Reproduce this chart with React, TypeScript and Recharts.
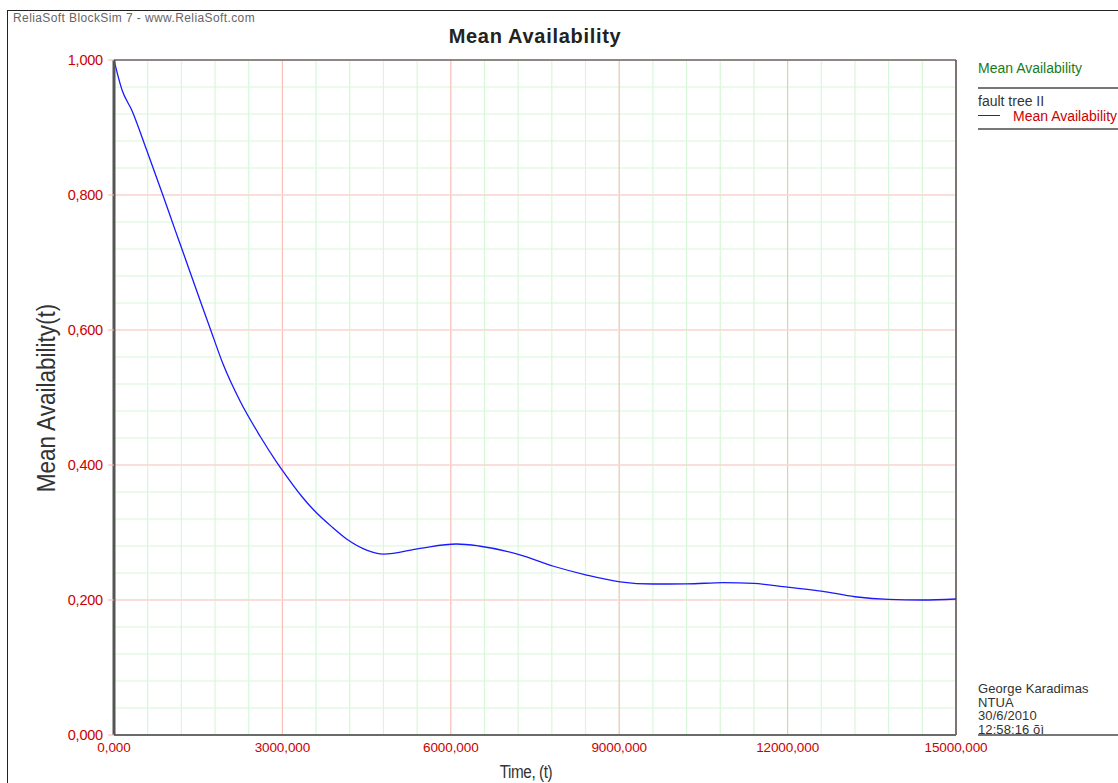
import React from 'react'
import {
  LineChart, Line, XAxis, YAxis, CartesianGrid, ReferenceLine
} from 'recharts'

// time (t) and mean availability
const times = [
  0, 150, 315, 580, 870, 1090, 1210, 1550, 1710, 1950, 2250, 2600, 2900, 3000,
  3350, 3550, 3900, 4150, 4500, 4800, 5450, 6100, 6500, 7230, 7830, 8420,
  9015, 9600, 10200, 10850, 11400, 12000, 12600, 13200, 13800, 14400, 15000
]
const availability = [
  1.0, 0.954, 0.926, 0.867, 0.8, 0.748, 0.72, 0.64, 0.603, 0.548, 0.494, 0.443, 0.404, 0.392,
  0.353, 0.334, 0.307, 0.29, 0.274, 0.268, 0.2765, 0.283, 0.28, 0.267, 0.25, 0.237,
  0.227, 0.2237, 0.2238, 0.2258, 0.2245, 0.219, 0.2133, 0.2048, 0.2008, 0.2, 0.2015
]

const xTicks = [0, 3000, 6000, 9000, 12000, 15000]
const yTicks = [0, 0.2, 0.4, 0.6, 0.8, 1.0]
const xMinor = Array.from({ length: 26 }, (_, i) => i * 600)
const yMinor = Array.from({ length: 26 }, (_, i) => +(i * 0.04).toFixed(2))

const data = times.map((t, i) => ({ t, a: availability[i] }))

const fmt = (v: number) => v.toFixed(3).replace('.', ',')

const font = '"Liberation Sans", Arial, sans-serif'
const red = '#cc0000'

const txt = (extra: React.CSSProperties): React.CSSProperties => ({
  position: 'absolute', fontFamily: font, whiteSpace: 'nowrap', lineHeight: 1, ...extra
})

export default function App() {
  return (
    <div style={{ position: 'absolute', left: 0, top: 0, width: 1118, height: 783, overflow: 'hidden', background: '#fff' }}>
      <div style={{ position: 'absolute', left: 7, top: 10, width: 1200, height: 900, borderTop: '1.5px solid #222', borderLeft: '1.5px solid #222' }} />
      <div style={txt({ left: 13, top: 12, fontSize: 12, color: '#666', letterSpacing: 0.4 })}>ReliaSoft BlockSim 7 - www.ReliaSoft.com</div>
      <div style={txt({ left: 0, width: 1070, top: 26, textAlign: 'center', fontSize: 20, fontWeight: 'bold', color: '#222', letterSpacing: 0.7 })}>Mean Availability</div>

      <div style={{ position: 'absolute', left: 0, top: 0 }}>
        <LineChart width={1118} height={783} data={data} margin={{ top: 60, right: 162, left: 54, bottom: 18 }}>
          <CartesianGrid horizontalValues={yMinor} verticalValues={xMinor} stroke="#d8f7d8" strokeWidth={1.2} />
          <CartesianGrid horizontal={false} verticalValues={xTicks} stroke="#ffb8b8" strokeWidth={1} />
          <CartesianGrid vertical={false} horizontalValues={yTicks} stroke="#ffd4d4" strokeWidth={1.6} />
          <XAxis
            dataKey="t" type="number" domain={[0, 15000]} ticks={xTicks} tickFormatter={fmt}
            interval={0} height={30} tickLine={false} tickMargin={1}
            axisLine={{ stroke: '#6a6a6a', strokeWidth: 2 }}
            tick={{ fill: red, fontSize: 13.5, fontFamily: font, letterSpacing: -0.1 }}
          />
          <YAxis
            type="number" domain={[0, 1]} ticks={yTicks} tickFormatter={fmt}
            interval={0} width={60} tickSize={6} tickMargin={5}
            tickLine={{ stroke: '#ffb0b0' }}
            axisLine={{ stroke: '#555', strokeWidth: 3 }}
            tick={{ fill: red, fontSize: 14.5, fontFamily: font, letterSpacing: -0.2 }}
          />
          <ReferenceLine y={1} stroke="#6a6a6a" strokeWidth={1.5} />
          <ReferenceLine x={15000} stroke="#555" strokeWidth={1.5} />
          <Line
            type="monotone" dataKey="a" stroke="#1a1aff" strokeWidth={1.3}
            dot={false} isAnimationActive={false}
          />
        </LineChart>
      </div>

      <div style={txt({ left: 46, top: 398, fontSize: 25, color: '#333', transform: 'translate(-50%, -50%) rotate(-90deg) scaleX(0.9)', transformOrigin: 'center' })}>Mean Availability(t)</div>
      <div style={txt({ left: 526, top: 772, fontSize: 18, color: '#333', transform: 'translate(-50%, -50%) scaleX(0.85)', letterSpacing: -0.5 })}>Time, (t)</div>

      <div style={txt({ left: 978, top: 61, fontSize: 14, color: '#1a7a1a' })}>Mean Availability</div>
      <div style={{ position: 'absolute', left: 978, top: 87, width: 140, height: 1.5, background: '#777' }} />
      <div style={txt({ left: 978, top: 94, fontSize: 14, color: '#333' })}>fault tree II</div>
      <div style={{ position: 'absolute', left: 978, top: 115, width: 22, height: 1, background: '#1a1aff' }} />
      <div style={txt({ left: 1013, top: 109, fontSize: 14, color: red })}>Mean Availability</div>
      <div style={{ position: 'absolute', left: 978, top: 128, width: 140, height: 1.5, background: '#777' }} />

      <div style={txt({ left: 978, top: 682, fontSize: 13, color: '#333', letterSpacing: 0.1, lineHeight: '13.5px' })}>
        George Karadimas<br />NTUA<br />30/6/2010<br />12:58:16 õì
      </div>
      <div style={{ position: 'absolute', left: 978, top: 734, width: 140, height: 1.5, background: '#777' }} />
    </div>
  )
}
